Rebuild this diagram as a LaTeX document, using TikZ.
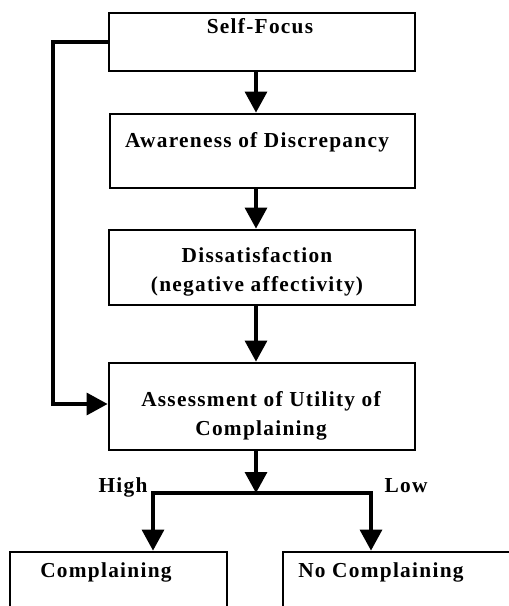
\documentclass[tikz,border=0pt]{standalone}
\usepackage{fontspec}
\setmainfont{Liberation Serif}[LetterSpace=6]
\usetikzlibrary{arrows.meta}
\newcommand{\px}{0.75pt}

\begin{document}
\begin{tikzpicture}[x=0.75pt, y=-0.75pt, every node/.style={font=\bfseries\fontsize{16}{21.75}\selectfont, inner sep=0pt}, box/.style={draw, line width=2.1pt}, link/.style={line width=2.5pt}, >={Triangle[length=15.75pt, width=16.5pt]}]
	\useasboundingbox (0,0) rectangle (509,606);
	\clip (0,0) rectangle (509,606);
	\node[box, minimum width=306*\px, minimum height=58*\px] (sf) at (262,42) {};
	\node[box, minimum width=305*\px, minimum height=74*\px] (ad) at (262.5,151) {};
	\node[box, minimum width=306*\px, minimum height=75*\px] (ds) at (262,267.5) {};
	\node[box, minimum width=306*\px, minimum height=87*\px] (au) at (262,406.5) {};
	\node[box, minimum width=217*\px, minimum height=108*\px] (cp) at (118.5,606) {};
	\node[box, minimum width=277*\px, minimum height=108*\px] (nc) at (421.5,606) {};
	\node[anchor=base] (sf-text) at (260,34) {Self-Focus};
	\node[anchor=base] (ad-text) at (257,147) {Awareness of Discrepancy};
	\node[align=center] (ds-text) at (257,272) {Dissatisfaction\\(negative affectivity)};
	\node[align=center] (au-text) at (261,416) {Assessment of Utility of\\Complaining};
	\node[anchor=base west] (cp-text) at (40,577) {Complaining};
	\node[anchor=base west] (nc-text) at (298,577) {No Complaining};
	\node[anchor=base] (hi-text) at (123,492) {High};
	\node[anchor=base] (lo-text) at (406,492) {Low};
	\coordinate (stem) at (256,0);
	\coordinate (split) at (256,493);
	\coordinate (hi) at (153,493);
	\coordinate (lo) at (371,493);
	\coordinate (loop) at (53,404);
	\foreach \a/\b in {sf/ad, ad/ds, ds/au} {
		\draw[link, ->] (\a.south -| stem) -- (\b.north -| stem);
	}
	\draw[link, ->] (au.south -| stem) -- (split);
	\draw[link, <->] (cp.north -| hi) -- (hi) -- (lo) -- (nc.north -| lo);
	\draw[link, ->] (sf.west) -| (loop) -- (au.west |- loop);
\end{tikzpicture}
\end{document}
